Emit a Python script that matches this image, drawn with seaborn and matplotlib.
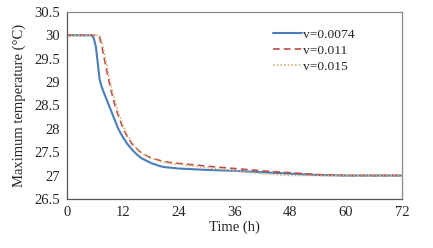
import matplotlib
matplotlib.use("Agg")
import matplotlib.pyplot as plt
import seaborn as sns
import pandas as pd

t_a = [0, 4.5, 5.2, 5.7, 6.2, 6.6, 7, 7.5, 8, 9, 10, 11, 12, 13, 14, 15, 16, 18, 20, 21, 22, 24, 30, 36, 42, 48, 54, 60, 66, 72]
v_a = [30, 30, 30, 29.95, 29.75, 29.4, 29.05, 28.88, 28.75, 28.5, 28.25, 28.0, 27.82, 27.67, 27.55, 27.45, 27.37, 27.27, 27.2, 27.18, 27.17, 27.15, 27.12, 27.1, 27.07, 27.04, 27.01, 27.0, 27.0, 27.0]
t_b = [0, 6.5, 7, 7.5, 8, 8.5, 9, 10, 11, 12, 13, 14, 15, 16, 18, 20, 22, 24, 30, 36, 42, 48, 54, 60, 66, 72]
v_b = [30, 30, 29.95, 29.75, 29.5, 29.25, 29.02, 28.6, 28.28, 28.02, 27.82, 27.67, 27.57, 27.48, 27.38, 27.32, 27.28, 27.26, 27.2, 27.15, 27.1, 27.06, 27.02, 27.0, 27.0, 27.0]
t_c = [0, 7, 7.5, 8, 8.5, 9, 10, 11, 12, 13, 14, 15, 16, 18, 20, 22, 24, 30, 36, 42, 48, 54, 60, 66, 72]
v_c = [30, 30, 29.85, 29.62, 29.38, 29.12, 28.7, 28.35, 28.08, 27.86, 27.7, 27.58, 27.48, 27.37, 27.3, 27.26, 27.24, 27.17, 27.1, 27.04, 27.0, 27.0, 27.0, 27.0, 27.0]
labels = ["v=0.0074", "v=0.011", "v=0.015"]
x_ticks = [0, 12, 24, 36, 48, 60, 72]
y_ticks = [26.5, 27, 27.5, 28, 28.5, 29, 29.5, 30, 30.5]

sns.set_style("white")
plt.rcParams['font.family'] = ['Liberation Serif', 'DejaVu Serif']

fig = plt.figure(figsize=(4.33, 2.48), dpi=100)
ax = fig.add_axes([0.155, 0.198, 0.773, 0.754])

styles = [("#4a7ebb", "-", 1.5), ("#be4b48", (0, (4, 2.5)), 1.2), ("#c9b87a", (0, (1, 1.2)), 1.2)]
for (t, v), lab, (c, ls, lw) in zip([(t_a, v_a), (t_b, v_b), (t_c, v_c)], labels, styles):
    df = pd.DataFrame({"t": t, "v": v})
    sns.lineplot(data=df, x="t", y="v", ax=ax, color=c, linestyle=ls, linewidth=lw, label=lab)

ax.set_xlim(0, 72)
ax.set_ylim(26.5, 30.5)
ax.set_xticks(x_ticks)
ax.set_xticklabels([str(x) for x in x_ticks])
ax.set_yticks(y_ticks)
ax.set_yticklabels([("%g" % y) for y in y_ticks])
ax.set_xlabel("Time (h)", fontsize=10.5, labelpad=1)
ax.set_ylabel("Maximum temperature (\u00b0C)", fontsize=10.5, labelpad=6)
ax.tick_params(axis="both", direction="inout", length=6, width=0.8, color="#555555", labelsize=10.5, pad=2)
for s in ax.spines.values():
    s.set_color("#8a8a8a")
    s.set_linewidth(0.9)
ax.spines["left"].set_color("#555555")
ax.spines["bottom"].set_color("#555555")

leg = ax.legend(loc="upper right", bbox_to_anchor=(0.875, 0.94), frameon=False, fontsize=9.7,
                handlelength=2.1, handletextpad=0.1, labelspacing=0.25, borderaxespad=0)

fig.savefig("out.png", dpi=100)
